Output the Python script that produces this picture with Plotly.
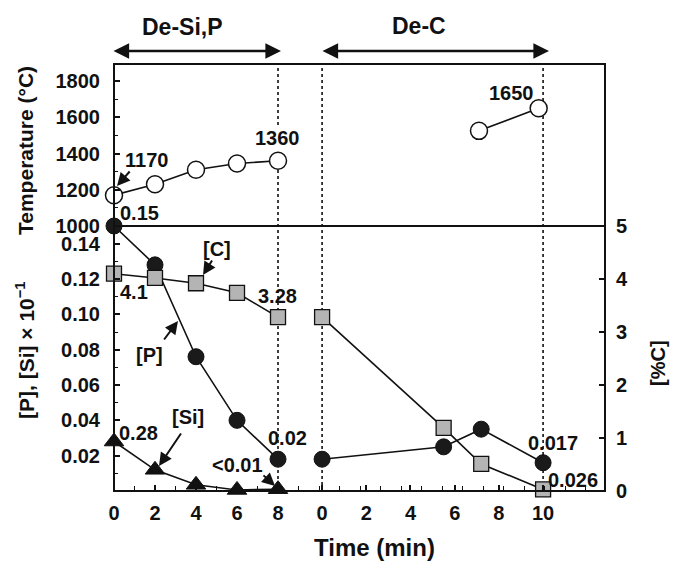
import plotly.graph_objects as go

# ---------------- data ----------------
time_si = [0, 2, 4, 6, 8]                 # De-Si,P stage (min)
temp_si = [1170, 1230, 1310, 1345, 1360]  # Temperature (C)
p_si = [0.150, 0.128, 0.076, 0.040, 0.018]
si_si = [0.028, 0.012, 0.0035, 0.0006, 0.001]   # [Si] x 10^-1
c_si = [4.1, 4.02, 3.92, 3.74, 3.28]

time_dc_temp = [7.1, 9.8]                 # De-C stage (min)
temp_dc = [1525, 1650]
time_dc = [0, 5.5, 7.2, 10]
p_dc = [0.018, 0.025, 0.035, 0.016]
c_dc = [3.28, 1.19, 0.51, 0.03]

xticks_si = [0, 2, 4, 6, 8]
xticks_dc = [0, 2, 4, 6, 8, 10]
temp_ticks = [1000, 1200, 1400, 1600, 1800]
p_ticks = [0.02, 0.04, 0.06, 0.08, 0.10, 0.12, 0.14]
c_ticks = [0, 1, 2, 3, 4, 5]

# ---------------- layout constants ----------------
W, H = 674, 564
L, R, T, B = 114, 605, 64, 491
DC_OFF, DC_SCALE = 10.15, 1.078        # position of De-C segment on shared axis
X_MAX = 23.95
SPLIT = (B - 226) / (B - T)

def dc(t):
    return DC_OFF + t * DC_SCALE

def pp(xp, yp):
    return (xp - L) / (R - L), (B - yp) / (B - T)

FONT = "Liberation Sans, Arial, sans-serif"
BLACK = "#111111"

fig = go.Figure()

line_style = dict(color=BLACK, width=1.6)

# Temperature
fig.add_trace(go.Scatter(x=time_si, y=temp_si, mode="lines+markers", yaxis="y", xaxis="x",
                         line=line_style, cliponaxis=False,
                         marker=dict(symbol="circle", size=17, color="white", line=dict(color=BLACK, width=1.5))))
fig.add_trace(go.Scatter(x=[dc(t) for t in time_dc_temp], y=temp_dc, mode="lines+markers", yaxis="y", xaxis="x",
                         line=line_style, cliponaxis=False,
                         marker=dict(symbol="circle", size=17, color="white", line=dict(color=BLACK, width=1.5))))

# %C (right axis)
sq = dict(symbol="square", size=15, color="#b4b4b4", line=dict(color=BLACK, width=1.3))
fig.add_trace(go.Scatter(x=time_si, y=c_si, mode="lines+markers", yaxis="y3", xaxis="x",
                         line=line_style, marker=sq, cliponaxis=False))
fig.add_trace(go.Scatter(x=[dc(t) for t in time_dc], y=c_dc, mode="lines+markers", yaxis="y3", xaxis="x",
                         line=line_style, marker=sq, cliponaxis=False))

# [Si]
fig.add_trace(go.Scatter(x=time_si, y=si_si, mode="lines+markers", yaxis="y2", xaxis="x",
                         line=line_style, cliponaxis=False,
                         marker=dict(symbol="triangle-up", size=17, color=BLACK, line=dict(color=BLACK, width=1))))

# [P]
dot = dict(symbol="circle", size=16, color="#1a1a1a", line=dict(color=BLACK, width=1))
fig.add_trace(go.Scatter(x=time_si, y=p_si, mode="lines+markers", yaxis="y2", xaxis="x",
                         line=line_style, marker=dot, cliponaxis=False))
fig.add_trace(go.Scatter(x=[dc(t) for t in time_dc], y=p_dc, mode="lines+markers", yaxis="y2", xaxis="x",
                         line=line_style, marker=dot, cliponaxis=False))

# ---------------- shapes ----------------
shapes = [
    dict(type="rect", xref="paper", yref="paper", x0=0, x1=1, y0=0, y1=1,
         line=dict(color=BLACK, width=2), layer="above"),
    dict(type="line", xref="paper", yref="paper", x0=0, x1=1, y0=SPLIT, y1=SPLIT,
         line=dict(color=BLACK, width=2), layer="above"),
]
for xv in [time_si[-1], dc(0), dc(10)]:
    shapes.append(dict(type="line", xref="x", yref="paper", x0=xv, x1=xv, y0=0, y1=1,
                       line=dict(color=BLACK, width=1.6, dash="dot"), layer="below"))

# ---------------- annotations ----------------
ann = []

def text(s, xp, yp, size=20, bg=None, **kw):
    x, y = pp(xp, yp)
    d = dict(text=s, x=x, y=y, xref="paper", yref="paper", showarrow=False,
             font=dict(size=size, family=FONT, color=BLACK, weight="bold"), xanchor="center", yanchor="middle")
    if bg:
        d["bgcolor"] = bg
    d.update(kw)
    ann.append(d)

def arrow(tail, tip, width=2, size=1.3):
    x, y = pp(*tip)
    ann.append(dict(text="", x=x, y=y, xref="paper", yref="paper", showarrow=True,
                    ax=tail[0] - tip[0], ay=tail[1] - tip[1], axref="pixel", ayref="pixel",
                    arrowhead=2, arrowsize=size, arrowwidth=width, arrowcolor=BLACK, standoff=0))

def darrow(x0p, x1p, yp):
    x, y = pp(x1p, yp)
    ann.append(dict(text="", x=x, y=y, xref="paper", yref="paper", showarrow=True,
                    ax=x0p - x1p, ay=0, axref="pixel", ayref="pixel",
                    arrowhead=2, startarrowhead=2, arrowside="end+start",
                    arrowsize=1.2, startarrowsize=1.2, arrowwidth=2.6, arrowcolor=BLACK,
                    standoff=0, startstandoff=0))

text("De-Si,P", 182, 27, size=23)
text("De-C", 419, 26, size=23)
darrow(112, 281, 51)
darrow(321, 549, 51)

text("1170", 146, 160)
arrow((131, 170), (117, 186))
text("1360", 277, 138, bg="white")
text("1650", 511, 93)
text("0.15", 139, 213)
text("[C]", 217, 249)
arrow((213, 259), (203, 275))
text("4.1", 134, 292)
text("3.28", 277, 296)
text("[P]", 149, 355)
arrow((163, 341), (178, 321))
text("[Si]", 188, 417)
arrow((182, 432), (159, 466))
text("0.28", 138, 433)
text("&lt;0.01", 237, 465)
arrow((262, 474), (275, 486))
text("0.02", 287, 438)
text("0.017", 553, 443)
text("0.026", 573, 480)

# axis titles
text("Temperature (°C)", 25, 151, size=21, textangle=-90)
text("[P], [Si] × 10<sup>−1</sup>", 25, 350, size=21, textangle=-90)
text("[%C]", 658, 363, size=20, textangle=-90)
text("Time (min)", 374, 547, size=24)

tickfont = dict(size=20, family=FONT, color=BLACK, weight="bold")

fig.update_layout(
    width=W, height=H,
    margin=dict(l=L, r=W - R, t=T, b=H - B, pad=0),
    paper_bgcolor="white", plot_bgcolor="white",
    showlegend=False,
    shapes=shapes, annotations=ann,
    xaxis=dict(domain=[0, 1], range=[0, X_MAX], anchor="y2",
               tickvals=xticks_si + [dc(t) for t in xticks_dc],
               ticktext=[str(t) for t in xticks_si] + [str(t) for t in xticks_dc],
               ticks="inside", ticklen=6, tickwidth=1.5, tickcolor=BLACK,
               minor=dict(dtick=1, tick0=0, ticks="inside", ticklen=5, tickwidth=1.2, tickcolor=BLACK),
               showgrid=False, zeroline=False, showline=False, tickfont=tickfont,
               ticklabelstandoff=8),
    yaxis=dict(domain=[SPLIT, 1], range=[1000, 1000 + (226 - T) / 0.18125], anchor="x",
               tickvals=temp_ticks, ticks="inside", ticklen=6, tickwidth=1.5, tickcolor=BLACK,
               minor=dict(dtick=100, tick0=1000, ticks="inside", ticklen=4, tickwidth=1.2, tickcolor=BLACK),
               showgrid=False, zeroline=False, showline=False, tickfont=tickfont,
               ticklabelstandoff=13),
    yaxis2=dict(domain=[0, SPLIT], range=[0, 0.15], anchor="x",
                tickvals=p_ticks, tickformat=".2f", ticks="inside", ticklen=6, tickwidth=1.5, tickcolor=BLACK,
                minor=dict(dtick=0.01, tick0=0, ticks="inside", ticklen=4, tickwidth=1.2, tickcolor=BLACK),
                showgrid=False, zeroline=False, showline=False, tickfont=tickfont,
                ticklabelstandoff=13),
    yaxis3=dict(domain=[0, SPLIT], range=[0, 5], overlaying="y2", side="right", anchor="x",
                tickvals=c_ticks, ticks="inside", ticklen=6, tickwidth=1.5, tickcolor=BLACK,
                showgrid=False, zeroline=False, showline=False, tickfont=tickfont,
                ticklabelstandoff=10),
)

fig.write_html("out.html")
